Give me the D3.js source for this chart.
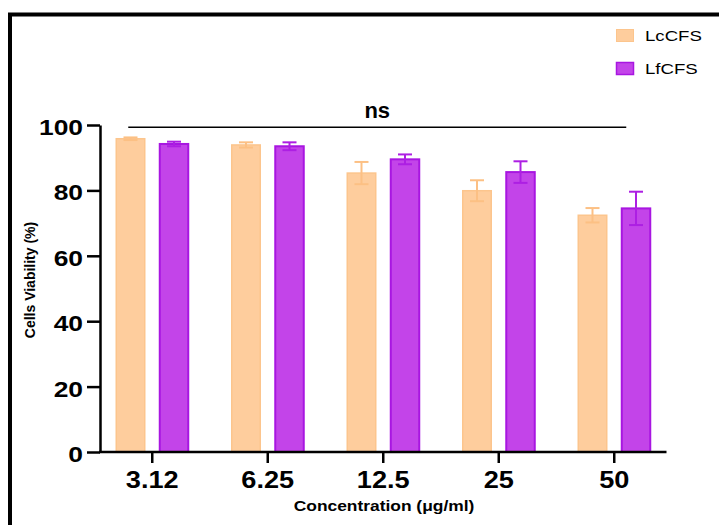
<!DOCTYPE html>
<html>
<head>
<meta charset="utf-8">
<script src="https://cdn.jsdelivr.net/npm/d3@7"></script>
<style>
    html, body { margin: 0; padding: 0; background: #fff; }
    svg { display: block; }
    text { font-family: Arial, 'Liberation Sans', sans-serif; fill: #000; }
</style>
</head>
<body>
<svg id="chart" width="719" height="525"></svg>
<script>
// data
const categories = ['3.12', '6.25', '12.5', '25', '50'];
const series = ['LcCFS', 'LfCFS'];
const lcMean = [95.8, 93.9, 85.3, 79.9, 72.4];
const lcErr = [0.4, 0.8, 3.4, 3.2, 2.2];
const lfMean = [94.2, 93.5, 89.5, 85.6, 74.5];
const lfErr = [0.7, 1.2, 1.5, 3.3, 5.1];
const yTicks = [0, 20, 40, 60, 80, 100];

const FILL = { LcCFS: '#fecd9d', LfCFS: '#c344e9' };
const EDGE = { LcCFS: '#fcc58d', LfCFS: '#a816e1' };
const ERRC = { LcCFS: '#fcc084', LfCFS: '#ad1fe3' };

const svg = d3.select('#chart');

// outer frame, clipped by the page on the right and bottom
svg.append('rect')
    .attr('x', 10).attr('y', 14.5)
    .attr('width', 800).attr('height', 600)
    .attr('fill', 'none')
    .attr('stroke', '#000')
    .attr('stroke-width', 4);

const x = d3.scaleBand().domain(categories).range([94.5, 672]);
const xSub = d3.scaleBand().domain(series).range([-36, 36]).paddingInner(0.345);
const y = d3.scaleLinear().domain([0, 100]).range([452, 125]);

const rows = [];
categories.forEach((c, i) => {
    rows.push({ cat: c, s: 'LcCFS', v: lcMean[i], e: lcErr[i] });
    rows.push({ cat: c, s: 'LfCFS', v: lfMean[i], e: lfErr[i] });
});
const cx = c => x(c) + x.bandwidth() / 2;

// bars
const g = svg.append('g');
g.selectAll('rect.bar')
    .data(rows)
    .enter()
    .append('rect')
    .attr('class', 'bar')
    .attr('x', d => cx(d.cat) + xSub(d.s))
    .attr('y', d => y(d.v))
    .attr('width', xSub.bandwidth())
    .attr('height', d => y(0) - y(d.v))
    .attr('fill', d => FILL[d.s])
    .attr('stroke', d => EDGE[d.s])
    .attr('stroke-width', d => d.s === 'LfCFS' ? 2 : 1.5);

// error bars (mean +/- err)
const eb = g.selectAll('g.err')
    .data(rows)
    .enter()
    .append('g')
    .attr('class', 'err')
    .attr('stroke', d => ERRC[d.s])
    .attr('stroke-width', 2);
const ex = d => cx(d.cat) + xSub(d.s) + xSub.bandwidth() / 2;
eb.append('line')
    .attr('x1', ex).attr('x2', ex)
    .attr('y1', d => y(d.v + d.e)).attr('y2', d => y(d.v - d.e));
eb.append('line')
    .attr('x1', d => ex(d) - 7).attr('x2', d => ex(d) + 7)
    .attr('y1', d => y(d.v + d.e)).attr('y2', d => y(d.v + d.e));
eb.append('line')
    .attr('x1', d => ex(d) - 7).attr('x2', d => ex(d) + 7)
    .attr('y1', d => y(d.v - d.e)).attr('y2', d => y(d.v - d.e));

// y axis
const SX = 1.2; // the figure's text is horizontally stretched
const yAxis = svg.append('g')
    .attr('transform', 'translate(100,0)')
    .call(d3.axisLeft(y).tickValues(yTicks).tickSize(13).tickSizeOuter(0));
yAxis.select('.domain').attr('stroke-width', 2.5);
yAxis.selectAll('.tick line').attr('stroke-width', 2.5);
yAxis.selectAll('.tick text')
    .attr('x', -17 / SX)
    .attr('dy', '0.43em')
    .attr('transform', `scale(${SX},1)`)
    .style('font-size', '22px')
    .style('font-weight', 'bold')
    .style('font-family', "Arial, 'Liberation Sans', sans-serif");

// x axis
const xAxis = svg.append('g')
    .attr('transform', `translate(0,${y(0)})`)
    .call(d3.axisBottom(x).tickSize(11).tickSizeOuter(0));
xAxis.select('.domain').remove();
xAxis.append('line')
    .attr('x1', 99).attr('x2', 666.5)
    .attr('stroke', '#000').attr('stroke-width', 2.5);
xAxis.selectAll('.tick line').attr('stroke-width', 2.5);
xAxis.selectAll('.tick text')
    .attr('x', 0)
    .attr('y', 20)
    .attr('dy', '0.71em')
    .attr('transform', 'scale(1.18,1)')
    .style('font-size', '23px')
    .style('font-weight', 'bold')
    .style('font-family', "Arial, 'Liberation Sans', sans-serif");

// axis titles
svg.append('text')
    .attr('transform', `translate(384,511) scale(${SX},1)`)
    .attr('text-anchor', 'middle')
    .style('font-size', '14.5px')
    .style('font-weight', 'bold')
    .text('Concentration (μg/ml)');

svg.append('text')
    .attr('transform', 'translate(35,280) rotate(-90)')
    .attr('text-anchor', 'middle')
    .style('font-size', '14px')
    .style('font-weight', 'bold')
    .text('Cells Viability (%)');

// significance annotation
const sx1 = cx(categories[0]) - 24;
const sx2 = cx(categories[categories.length - 1]) + 12;
svg.append('line')
    .attr('x1', sx1).attr('x2', sx2)
    .attr('y1', 127.3).attr('y2', 127.3)
    .attr('stroke', '#000').attr('stroke-width', 1.5);
svg.append('text')
    .attr('x', (sx1 + sx2) / 2).attr('y', 118)
    .attr('text-anchor', 'middle')
    .style('font-size', '22px')
    .style('font-weight', 'bold')
    .text('ns');

// legend
const legend = svg.append('g')
    .selectAll('g')
    .data(series)
    .enter()
    .append('g')
    .attr('transform', (d, i) => `translate(616.5,${29.5 + i * 33})`);
legend.append('rect')
    .attr('width', 17).attr('height', 12)
    .attr('fill', d => FILL[d])
    .attr('stroke', d => EDGE[d])
    .attr('stroke-width', d => d === 'LfCFS' ? 1.5 : 1);
legend.append('text')
    .attr('transform', `translate(28.5,11.5) scale(${SX},1)`)
    .style('font-size', '15.5px')
    .text(d => d);
</script>
</body>
</html>
